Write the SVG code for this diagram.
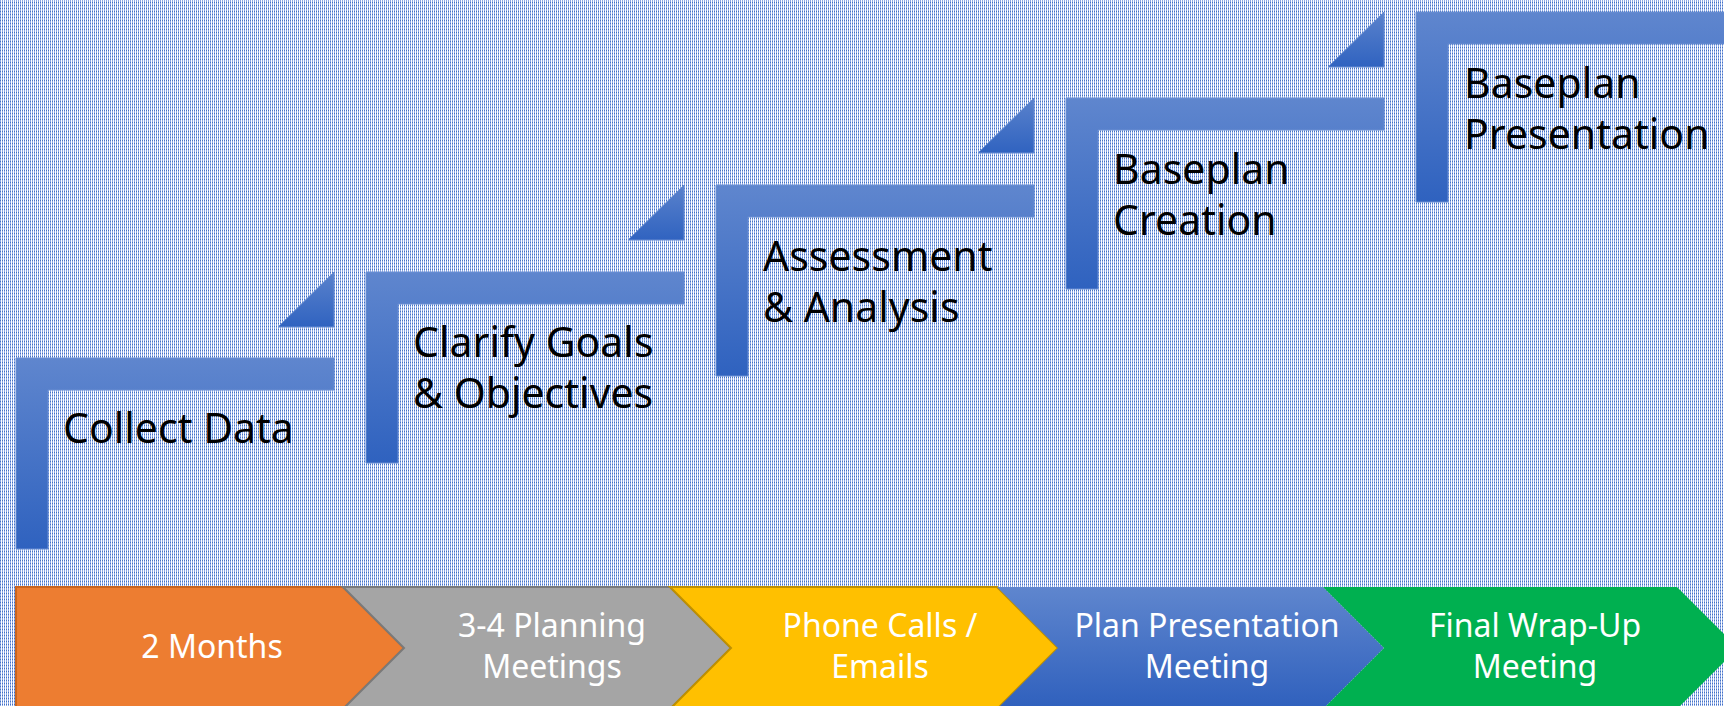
<svg xmlns="http://www.w3.org/2000/svg" width="1724" height="706" viewBox="0 0 1724 706">
  <defs>
    <pattern id="bg" width="2" height="3" patternUnits="userSpaceOnUse">
      <rect width="2" height="3" fill="#ffffff"/>
      <rect x="0" y="0" width="1" height="2" fill="#8eaae6"/>
      <rect x="0" y="2" width="1" height="1" fill="#4472c4"/>
    </pattern>
    <linearGradient id="stepGrad" x1="0" y1="0" x2="0" y2="1">
      <stop offset="0" stop-color="#5f86ce"/>
      <stop offset="1" stop-color="#2f62bf"/>
    </linearGradient>
    <linearGradient id="triGrad" x1="0" y1="0" x2="0" y2="1">
      <stop offset="0" stop-color="#5a82cc"/>
      <stop offset="1" stop-color="#3063c0"/>
    </linearGradient>
    <linearGradient id="blueChev" x1="0" y1="0" x2="0" y2="1">
      <stop offset="0" stop-color="#5f86ce"/>
      <stop offset="1" stop-color="#2f60bd"/>
    </linearGradient>
  </defs>
  <style>
    .step { fill: url(#stepGrad); stroke: #6a8fd3; stroke-width: 1; }
    .tri { fill: url(#triGrad); stroke: #6a8fd3; stroke-width: 1; }
    .lbl { font-family: "Noto Sans", "Open Sans", sans-serif; font-size: 41px; fill: #000000; }
    .clbl { font-family: "Noto Sans", "Open Sans", sans-serif; font-size: 32px; fill: #ffffff; text-anchor: middle; }
  </style>
  <rect x="0" y="0" width="1724" height="706" fill="url(#bg)"/>

  <g id="connectors">
    <polygon class="tri" points="278,327 334,327 334,272"/>
    <polygon class="tri" points="628,240 684,240 684,185"/>
    <polygon class="tri" points="978,153 1034,153 1034,98"/>
    <polygon class="tri" points="1328,67 1384,67 1384,12"/>
  </g>

  <g id="step1">
    <path class="step" d="M16 358 H334 V390 H48 V549 H16 Z"/>
    <text class="lbl" x="63" y="443">Collect Data</text>
  </g>
  <g id="step2">
    <path class="step" d="M366 272 H684 V304 H398 V463 H366 Z"/>
    <text class="lbl" x="413" y="357">Clarify Goals</text>
    <text class="lbl" x="413" y="408">&amp; Objectives</text>
  </g>
  <g id="step3">
    <path class="step" d="M716 185 H1034 V217 H748 V376 H716 Z"/>
    <text class="lbl" x="763" y="271">Assessment</text>
    <text class="lbl" x="763" y="322">&amp; Analysis</text>
  </g>
  <g id="step4">
    <path class="step" d="M1066 98 H1384 V130 H1098 V289 H1066 Z"/>
    <text class="lbl" x="1113" y="184">Baseplan</text>
    <text class="lbl" x="1113" y="235">Creation</text>
  </g>
  <g id="step5">
    <path class="step" d="M1416 12 H1730 V44 H1448 V202 H1416 Z"/>
    <text class="lbl" x="1464" y="98">Baseplan</text>
    <text class="lbl" x="1464" y="149">Presentation</text>
  </g>

  <g id="chev1">
    <polygon points="16,587 343,587 404,648 343,709 16,709" fill="#ed7d31" stroke="#c9651f" stroke-width="2"/>
    <text class="clbl" x="212" y="658">2 Months</text>
  </g>
  <g id="chev2">
    <polygon points="343,587 670,587 731,648 670,709 343,709 404,648" fill="#a5a5a5" stroke="#7a7a7a" stroke-width="2"/>
    <text class="clbl" x="552" y="637">3-4 Planning</text>
    <text class="clbl" x="552" y="678">Meetings</text>
  </g>
  <g id="chev3">
    <polygon points="670,587 997,587 1058,648 997,709 670,709 731,648" fill="#ffc000" stroke="#bf9000" stroke-width="2"/>
    <text class="clbl" x="880" y="637">Phone Calls /</text>
    <text class="clbl" x="880" y="678">Emails</text>
  </g>
  <g id="chev4">
    <polygon points="997,587 1323,587 1384,648 1323,709 997,709 1058,648" fill="url(#blueChev)"/>
    <text class="clbl" x="1207" y="637">Plan Presentation</text>
    <text class="clbl" x="1207" y="678">Meeting</text>
  </g>
  <g id="chev5">
    <polygon points="1323,587 1677,587 1738,648 1677,709 1323,709 1384,648" fill="#00b050"/>
    <text class="clbl" x="1535" y="637">Final Wrap-Up</text>
    <text class="clbl" x="1535" y="678">Meeting</text>
  </g>
</svg>
